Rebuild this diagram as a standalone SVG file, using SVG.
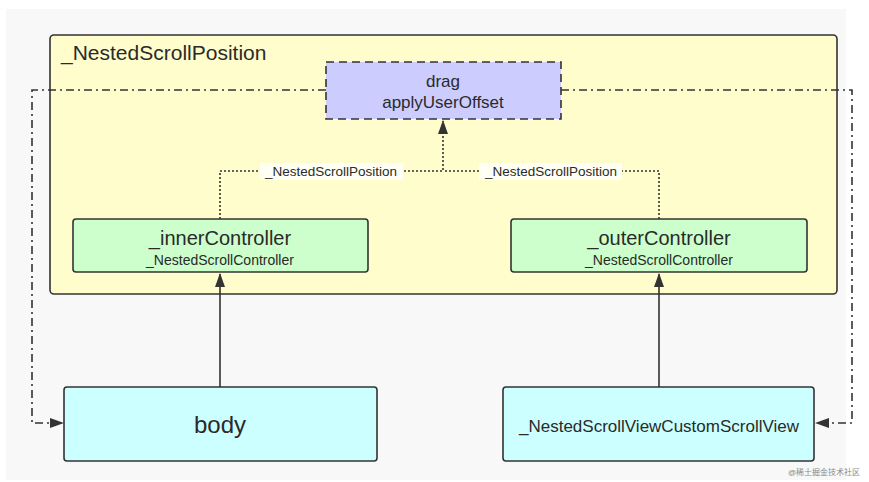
<svg xmlns="http://www.w3.org/2000/svg" width="869" height="482" viewBox="0 0 869 482">
<style>
  text { font-family: "Liberation Sans", Arial, sans-serif; fill: #2a2a2a; }
  .box { stroke: #333; stroke-width: 1.6; }
  .conn { fill: none; stroke: #333; stroke-width: 1.6; }
  .dotted { stroke-dasharray: 2 2; }
  .dashdot { stroke-dasharray: 8 4 2 4; }
  .lbl { font-size: 13.5px; text-anchor: middle; }
  .mid { text-anchor: middle; }
</style>
<defs>
  <marker id="arrBig" viewBox="0 0 14 12" refX="13" refY="6" markerWidth="14" markerHeight="12" markerUnits="userSpaceOnUse" orient="auto">
    <path d="M0,1 L14,6 L0,11 z" fill="#333"/>
  </marker>
</defs>
<rect x="0" y="0" width="869" height="482" fill="#ffffff"/>
<rect x="6" y="9" width="840" height="471" fill="#f8f8f8"/>

<g id="container">
  <rect class="box" x="50" y="35" width="787" height="259" rx="4" fill="#fffdcc" stroke-width="2"/>
  <text x="61" y="60" font-size="21">_NestedScrollPosition</text>
</g>

<g id="connectors">
  <path class="conn dashdot" d="M326,90 H32 V423 H63" marker-end="url(#arrBig)"/>
  <path class="conn dashdot" d="M561,90 H852 V423 H816" marker-end="url(#arrBig)"/>
  <path class="conn" d="M220,387 V274" marker-end="url(#arrBig)"/>
  <path class="conn" d="M659,387 V274" marker-end="url(#arrBig)"/>
  <path class="conn dotted" d="M220,219 V171 H443 V121" marker-end="url(#arrBig)"/>
  <path class="conn dotted" d="M659,219 V171 H443"/>
  <rect x="260" y="163" width="143" height="17" fill="#fffff4"/>
  <text class="lbl" x="331" y="176">_NestedScrollPosition</text>
  <rect x="479" y="163" width="143" height="17" fill="#fffff4"/>
  <text class="lbl" x="551" y="176">_NestedScrollPosition</text>
</g>

<g id="drag">
  <rect class="box" x="326" y="62" width="235" height="57" fill="#ccccff" stroke-dasharray="8 5" stroke-width="2"/>
  <text class="mid" x="443" y="87" font-size="17">drag</text>
  <text class="mid" x="443" y="108" font-size="17">applyUserOffset</text>
</g>

<g id="innerController">
  <rect class="box" x="73" y="219" width="295" height="53" rx="3" fill="#ccffcc"/>
  <text class="mid" x="220" y="245" font-size="20">_innerController</text>
  <text class="mid" x="220" y="265" font-size="14">_NestedScrollController</text>
</g>

<g id="outerController">
  <rect class="box" x="511" y="219" width="296" height="53" rx="3" fill="#ccffcc"/>
  <text class="mid" x="659" y="245" font-size="20">_outerController</text>
  <text class="mid" x="659" y="265" font-size="14">_NestedScrollController</text>
</g>

<g id="body">
  <rect class="box" x="64" y="387" width="313" height="74" rx="3" fill="#ccffff"/>
  <text class="mid" x="220" y="433" font-size="24">body</text>
</g>

<g id="customScrollView">
  <rect class="box" x="503" y="387" width="311" height="74" rx="3" fill="#ccffff"/>
  <text class="mid" x="659" y="432" font-size="17">_NestedScrollViewCustomScrollView</text>
</g>

<text x="860" y="475" font-size="8" text-anchor="end" style="fill:#888; font-family: 'Liberation Sans', 'Noto Sans CJK SC', sans-serif;">@稀土掘金技术社区</text>
</svg>
